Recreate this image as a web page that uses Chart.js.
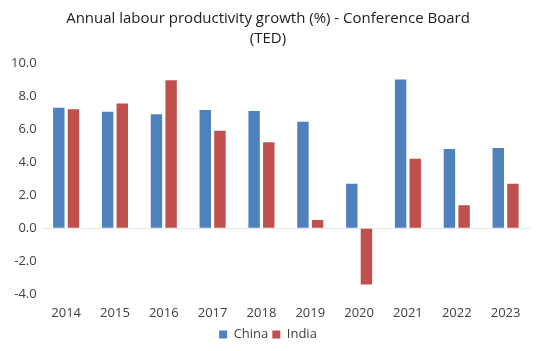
<!DOCTYPE html>
<html>
<head>
<meta charset="utf-8">
<script src="https://cdn.jsdelivr.net/npm/chart.js@4"></script>
<style>
  html, body { margin: 0; padding: 0; background: #fff; }
  #wrap { width: 540px; height: 351px; }
</style>
</head>
<body>
<div id="wrap"><canvas id="chart" width="540" height="351"></canvas></div>
<script>
const years = ['2014', '2015', '2016', '2017', '2018', '2019', '2020', '2021', '2022', '2023'];
const china = [7.3, 7.05, 6.9, 7.15, 7.1, 6.45, 2.7, 9.0, 4.8, 4.85];
const india = [7.2, 7.55, 8.95, 5.9, 5.2, 0.5, -3.4, 4.2, 1.4, 2.7];
const titleLines = ['Annual labour productivity growth (%) - Conference Board', '(TED)'];

const font = 'Open Sans';

new Chart(document.getElementById('chart'), {
  type: 'bar',
  data: {
    labels: years,
    datasets: [
      { label: 'China', data: china, backgroundColor: '#4F81BD' },
      { label: 'India', data: india, backgroundColor: '#C0504D' }
    ]
  },
  options: {
    responsive: false,
    animation: false,
    layout: { padding: { left: 6, right: 10, top: 9, bottom: 0 } },
    datasets: {
      bar: { categoryPercentage: 0.6, barPercentage: 0.78 }
    },
    scales: {
      x: {
        grid: { display: false },
        border: { display: false },
        ticks: { color: '#404040', font: { family: font, size: 13 }, padding: 3 }
      },
      y: {
        min: -4,
        max: 10,
        ticks: {
          stepSize: 2,
          color: '#404040',
          font: { family: font, size: 13 },
          padding: 5,
          callback: v => v.toFixed(1)
        },
        border: { display: false },
        grid: {
          drawTicks: false,
          color: ctx => ctx.tick && ctx.tick.value === 0 ? '#e6e6e6' : 'rgba(0,0,0,0)'
        }
      }
    },
    plugins: {
      title: {
        display: true,
        text: titleLines,
        color: '#202020',
        font: { family: font, size: 15, weight: 'normal', lineHeight: 1.3 },
        padding: { top: 0, bottom: 15 }
      },
      legend: {
        position: 'bottom',
        labels: {
          color: '#404040',
          font: { family: font, size: 13 },
          boxWidth: 8,
          boxHeight: 8,
          padding: 4
        }
      },
      tooltip: { enabled: false }
    }
  }
});
</script>
</body>
</html>
